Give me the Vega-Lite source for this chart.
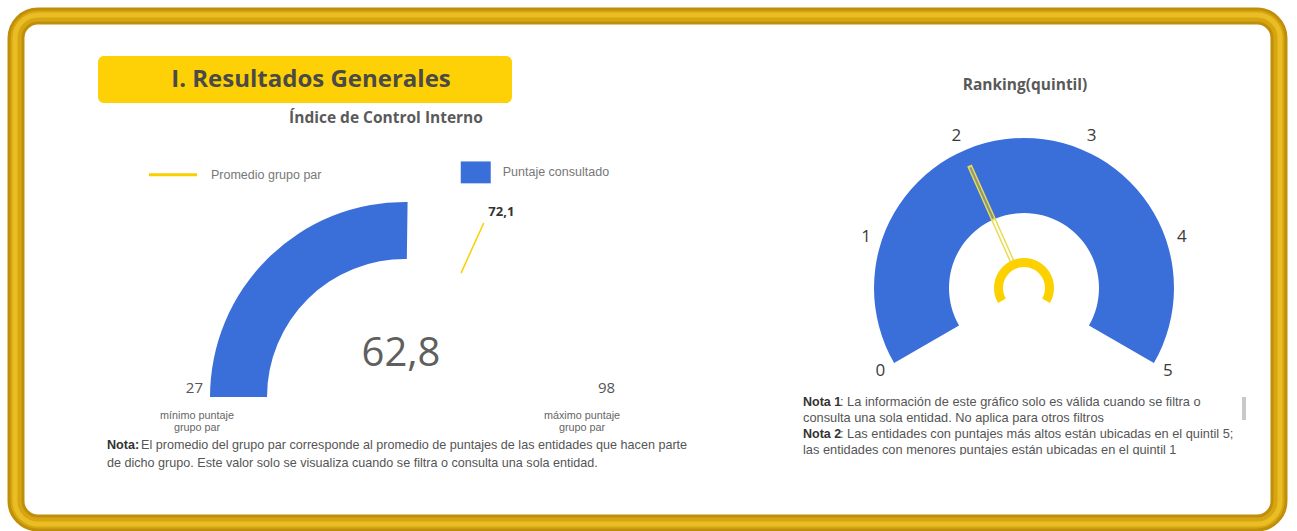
{
  "$schema": "https://vega.github.io/schema/vega-lite/v6.json",
  "width": 1263,
  "height": 507,
  "autosize": {"type": "none"},
  "padding": {"left": 16, "top": 16, "right": 18, "bottom": 8},
  "background": "white",
  "config": {
    "view": {"stroke": null, "fill": "white"},
    "locale": {"number": {"decimal": ",", "thousands": ".", "grouping": [3], "currency": ["", " €"]}},
    "font": "Open Sans"
  },
  "datasets": {
    "indice": [{"minimo": 27, "maximo": 98, "puntaje": 62.8, "promedio": 72.1}],
    "ranking": [{"minimo": 0, "maximo": 5, "quintil": 2}],
    "quintiles": [{"q": 0}, {"q": 1}, {"q": 2}, {"q": 3}, {"q": 4}, {"q": 5}],
    "uno": [{}]
  },
  "resolve": {"scale": {"theta": "independent"}},
  "layer": [
    {
      "data": {"name": "uno"},
      "mark": {"type": "rect", "x": 0, "x2": 1263, "y": 0, "y2": 507, "fill": null, "stroke": "#c08f0a", "strokeWidth": 17, "cornerRadius": 22},
      "encoding": {}
    },
    {
      "data": {"name": "uno"},
      "mark": {"type": "rect", "x": 0, "x2": 1263, "y": 0, "y2": 507, "fill": null, "stroke": "#d7a512", "strokeWidth": 11, "cornerRadius": 22},
      "encoding": {}
    },
    {
      "data": {"name": "uno"},
      "mark": {"type": "rect", "x": -1, "x2": 1264, "y": -1, "y2": 508, "fill": null, "stroke": "#e9be24", "strokeWidth": 5, "cornerRadius": 23},
      "encoding": {}
    },
    {
      "data": {"name": "uno"},
      "mark": {"type": "rect", "x": 82, "x2": 496, "y": 40, "y2": 87, "fill": "#fdd106", "cornerRadius": 6},
      "encoding": {}
    },
    {
      "data": {"name": "uno"},
      "mark": {"type": "text", "x": 295, "y": 64, "text": "I. Resultados Generales", "fontSize": 24, "fontWeight": "bold", "color": "#4b4a46", "align": "center", "baseline": "middle"},
      "encoding": {}
    },
    {
      "data": {"name": "uno"},
      "mark": {"type": "text", "x": 370, "y": 102, "text": "Índice de Control Interno", "fontSize": 15.5, "fontWeight": "bold", "color": "#5a5a5a", "align": "center", "baseline": "middle"},
      "encoding": {}
    },
    {
      "data": {"name": "indice"},
      "mark": {"type": "arc", "x": 389, "y": 381, "innerRadius": 138, "outerRadius": 195},
      "encoding": {
        "theta": {"field": "minimo", "type": "quantitative", "stack": null, "scale": {"domain": [27, 98], "range": [-1.5707963, 1.5707963]}},
        "theta2": {"field": "puntaje"},
        "color": {
          "datum": "Puntaje consultado",
          "type": "nominal",
          "scale": {"domain": ["Promedio grupo par", "Puntaje consultado"], "range": ["#f8d000", "#3a6fd9"]},
          "legend": {
            "title": null,
            "orient": "none",
            "legendX": 150.75,
            "legendY": 149.75,
            "direction": "horizontal",
            "padding": 0,
            "symbolSize": 2304,
            "symbolStrokeWidth": 3,
            "labelOffset": 31.75,
            "columnPadding": 136.75,
            "labelFont": "Liberation Sans",
            "labelFontSize": 12.5,
            "labelColor": "#777777",
            "labelLimit": 300,
            "encode": {
              "symbols": {
                "update": {
                  "shape": {"signal": "datum.value === 'Promedio grupo par' ? 'stroke' : 'M-1,-0.73H1V0.73H-1Z'"},
                  "size": {"signal": "datum.value === 'Promedio grupo par' ? 2304 : 900"},
                  "x": {"signal": "datum.value === 'Promedio grupo par' ? 6.25 : 17.25"},
                  "fill": {"signal": "datum.value === 'Promedio grupo par' ? 'transparent' : '#3a6fd9'"},
                  "stroke": {"signal": "datum.value === 'Promedio grupo par' ? '#f8d000' : 'transparent'"},
                  "strokeWidth": {"signal": "datum.value === 'Promedio grupo par' ? 3 : 0"},
                  "opacity": {"value": 1}
                }
              }
            }
          }
        }
      }
    },
    {
      "data": {"name": "indice"},
      "mark": {"type": "arc", "filled": false, "x": 389, "y": 381, "innerRadius": 136, "outerRadius": 191, "strokeWidth": 1.5},
      "encoding": {
        "theta": {"field": "promedio", "type": "quantitative", "stack": null, "scale": {"domain": [27, 98], "range": [-1.5707963, 1.5707963]}},
        "theta2": {"field": "promedio"},
        "color": {"datum": "Promedio grupo par", "type": "nominal"}
      }
    },
    {
      "data": {"name": "indice"},
      "mark": {"type": "text", "x": 385, "y": 338, "fontSize": 40, "color": "#5f5f5f", "align": "center", "baseline": "middle"},
      "encoding": {"text": {"field": "puntaje", "type": "quantitative", "format": ".1f"}}
    },
    {
      "data": {"name": "indice"},
      "mark": {"type": "text", "x": 389, "y": 381, "radius": 202, "dy": -9, "fontSize": 15, "color": "#555555", "align": "right", "baseline": "middle"},
      "encoding": {
        "theta": {"field": "minimo", "type": "quantitative", "scale": {"domain": [27, 98], "range": [-1.5707963, 1.5707963]}},
        "text": {"field": "minimo", "type": "quantitative", "format": "d"}
      }
    },
    {
      "data": {"name": "indice"},
      "mark": {"type": "text", "x": 389, "y": 381, "radius": 193, "dy": -9, "fontSize": 15, "color": "#555555", "align": "left", "baseline": "middle"},
      "encoding": {
        "theta": {"field": "maximo", "type": "quantitative", "scale": {"domain": [27, 98], "range": [-1.5707963, 1.5707963]}},
        "text": {"field": "maximo", "type": "quantitative", "format": "d"}
      }
    },
    {
      "data": {"name": "indice"},
      "mark": {"type": "text", "x": 389, "y": 381, "radius": 207, "dx": 11, "dy": 4, "fontSize": 13, "fontWeight": "bold", "color": "#333333", "align": "center", "baseline": "middle"},
      "encoding": {
        "theta": {"field": "promedio", "type": "quantitative", "scale": {"domain": [27, 98], "range": [-1.5707963, 1.5707963]}},
        "text": {"field": "promedio", "type": "quantitative", "format": ".1f"}
      }
    },
    {
      "data": {"name": "indice"},
      "mark": {"type": "text", "x": 389, "y": 381, "radius": 208, "dy": 19, "fontSize": 10.8, "lineHeight": 12, "font": "Liberation Sans", "color": "#666666", "align": "center", "baseline": "middle", "text": ["mínimo puntaje", "grupo par"]},
      "encoding": {
        "theta": {"field": "minimo", "type": "quantitative", "scale": {"domain": [27, 98], "range": [-1.5707963, 1.5707963]}}
      }
    },
    {
      "data": {"name": "indice"},
      "mark": {"type": "text", "x": 389, "y": 381, "radius": 177, "dy": 19, "fontSize": 10.8, "lineHeight": 12, "font": "Liberation Sans", "color": "#666666", "align": "center", "baseline": "middle", "text": ["máximo puntaje", "grupo par"]},
      "encoding": {
        "theta": {"field": "maximo", "type": "quantitative", "scale": {"domain": [27, 98], "range": [-1.5707963, 1.5707963]}}
      }
    },
    {
      "data": {"name": "uno"},
      "mark": {"type": "text", "x": 91, "y": 429, "text": "Nota:", "font": "Liberation Sans", "fontSize": 12.6, "fontWeight": "bold", "color": "#333333", "align": "left", "baseline": "middle"},
      "encoding": {}
    },
    {
      "data": {"name": "uno"},
      "mark": {"type": "text", "x": 125, "y": 429, "text": "El promedio del grupo par corresponde al promedio de puntajes de las entidades que hacen parte", "font": "Liberation Sans", "fontSize": 12.6, "color": "#555555", "align": "left", "baseline": "middle"},
      "encoding": {}
    },
    {
      "data": {"name": "uno"},
      "mark": {"type": "text", "x": 91, "y": 447, "text": "de dicho grupo.  Este valor solo se visualiza cuando se filtra o consulta una sola entidad.", "font": "Liberation Sans", "fontSize": 12.6, "color": "#555555", "align": "left", "baseline": "middle"},
      "encoding": {}
    },
    {
      "data": {"name": "uno"},
      "mark": {"type": "text", "x": 1009, "y": 69, "text": "Ranking(quintil)", "fontSize": 15.5, "fontWeight": "bold", "color": "#595959", "align": "center", "baseline": "middle"},
      "encoding": {}
    },
    {
      "data": {"name": "ranking"},
      "mark": {"type": "arc", "x": 1008, "y": 272, "innerRadius": 75, "outerRadius": 150, "fill": "#3a6fd9"},
      "encoding": {
        "theta": {"field": "minimo", "type": "quantitative", "stack": null, "scale": {"domain": [0, 5], "range": [-2.0943951, 2.0943951]}},
        "theta2": {"field": "maximo"}
      }
    },
    {
      "data": {"name": "ranking"},
      "mark": {"type": "arc", "x": 1008, "y": 272, "innerRadius": 28, "outerRadius": 134, "fill": null, "stroke": "#e9dc55", "strokeWidth": 5},
      "encoding": {
        "theta": {"field": "quintil", "type": "quantitative", "stack": null, "scale": {"domain": [0, 5], "range": [-2.0943951, 2.0943951]}},
        "theta2": {"field": "quintil"}
      }
    },
    {
      "data": {"name": "ranking"},
      "mark": {"type": "arc", "x": 1008, "y": 272, "innerRadius": 76, "outerRadius": 132, "fill": null, "stroke": "#8f9a78", "strokeWidth": 2.2},
      "encoding": {
        "theta": {"field": "quintil", "type": "quantitative", "stack": null, "scale": {"domain": [0, 5], "range": [-2.0943951, 2.0943951]}},
        "theta2": {"field": "quintil"}
      }
    },
    {
      "data": {"name": "ranking"},
      "mark": {"type": "arc", "x": 1008, "y": 272, "innerRadius": 30, "outerRadius": 74, "fill": null, "stroke": "#ffffff", "strokeWidth": 2},
      "encoding": {
        "theta": {"field": "quintil", "type": "quantitative", "stack": null, "scale": {"domain": [0, 5], "range": [-2.0943951, 2.0943951]}},
        "theta2": {"field": "quintil"}
      }
    },
    {
      "data": {"name": "ranking"},
      "mark": {"type": "arc", "x": 1008, "y": 272, "innerRadius": 21, "outerRadius": 30, "fill": "#fdd000"},
      "encoding": {
        "theta": {"field": "minimo", "type": "quantitative", "stack": null, "scale": {"domain": [0, 5], "range": [-2.0943951, 2.0943951]}},
        "theta2": {"field": "maximo"}
      }
    },
    {
      "data": {"name": "quintiles"},
      "mark": {"type": "text", "x": 1008, "y": 272, "radius": 166, "fontSize": 17, "color": "#3a3a3a", "align": "center", "baseline": "middle"},
      "encoding": {
        "theta": {"field": "q", "type": "quantitative", "scale": {"domain": [0, 5], "range": [-2.0943951, 2.0943951]}},
        "text": {"field": "q", "type": "quantitative", "format": "d"}
      }
    },
    {
      "data": {"name": "uno"},
      "mark": {"type": "text", "x": 787, "y": 386, "text": "Nota 1", "font": "Liberation Sans", "fontSize": 12.5, "fontWeight": "bold", "color": "#333333", "align": "left", "baseline": "middle"},
      "encoding": {}
    },
    {
      "data": {"name": "uno"},
      "mark": {"type": "text", "x": 824, "y": 386, "text": ": La información de este gráfico solo es válida cuando se filtra o", "font": "Liberation Sans", "fontSize": 12.8, "color": "#555555", "align": "left", "baseline": "middle"},
      "encoding": {}
    },
    {
      "data": {"name": "uno"},
      "mark": {"type": "text", "x": 787, "y": 402, "text": "consulta una sola entidad. No aplica para otros filtros", "font": "Liberation Sans", "fontSize": 12.8, "color": "#555555", "align": "left", "baseline": "middle"},
      "encoding": {}
    },
    {
      "data": {"name": "uno"},
      "mark": {"type": "text", "x": 787, "y": 418, "text": "Nota 2", "font": "Liberation Sans", "fontSize": 12.5, "fontWeight": "bold", "color": "#333333", "align": "left", "baseline": "middle"},
      "encoding": {}
    },
    {
      "data": {"name": "uno"},
      "mark": {"type": "text", "x": 824, "y": 418, "text": ": Las entidades con puntajes más altos están ubicadas en el quintil 5;", "font": "Liberation Sans", "fontSize": 12.8, "color": "#555555", "align": "left", "baseline": "middle"},
      "encoding": {}
    },
    {
      "data": {"name": "uno"},
      "mark": {"type": "text", "x": 787, "y": 434, "text": "las entidades con menores puntajes están ubicadas en el quintil 1", "font": "Liberation Sans", "fontSize": 12.8, "color": "#555555", "align": "left", "baseline": "middle"},
      "encoding": {}
    },
    {
      "data": {"name": "uno"},
      "mark": {"type": "rect", "x": 779, "x2": 1224, "y": 439, "y2": 456, "fill": "white"},
      "encoding": {}
    },
    {
      "data": {"name": "uno"},
      "mark": {"type": "rect", "x": 1226, "x2": 1230, "y": 381, "y2": 404, "fill": "#c8c8c8"},
      "encoding": {}
    }
  ]
}
